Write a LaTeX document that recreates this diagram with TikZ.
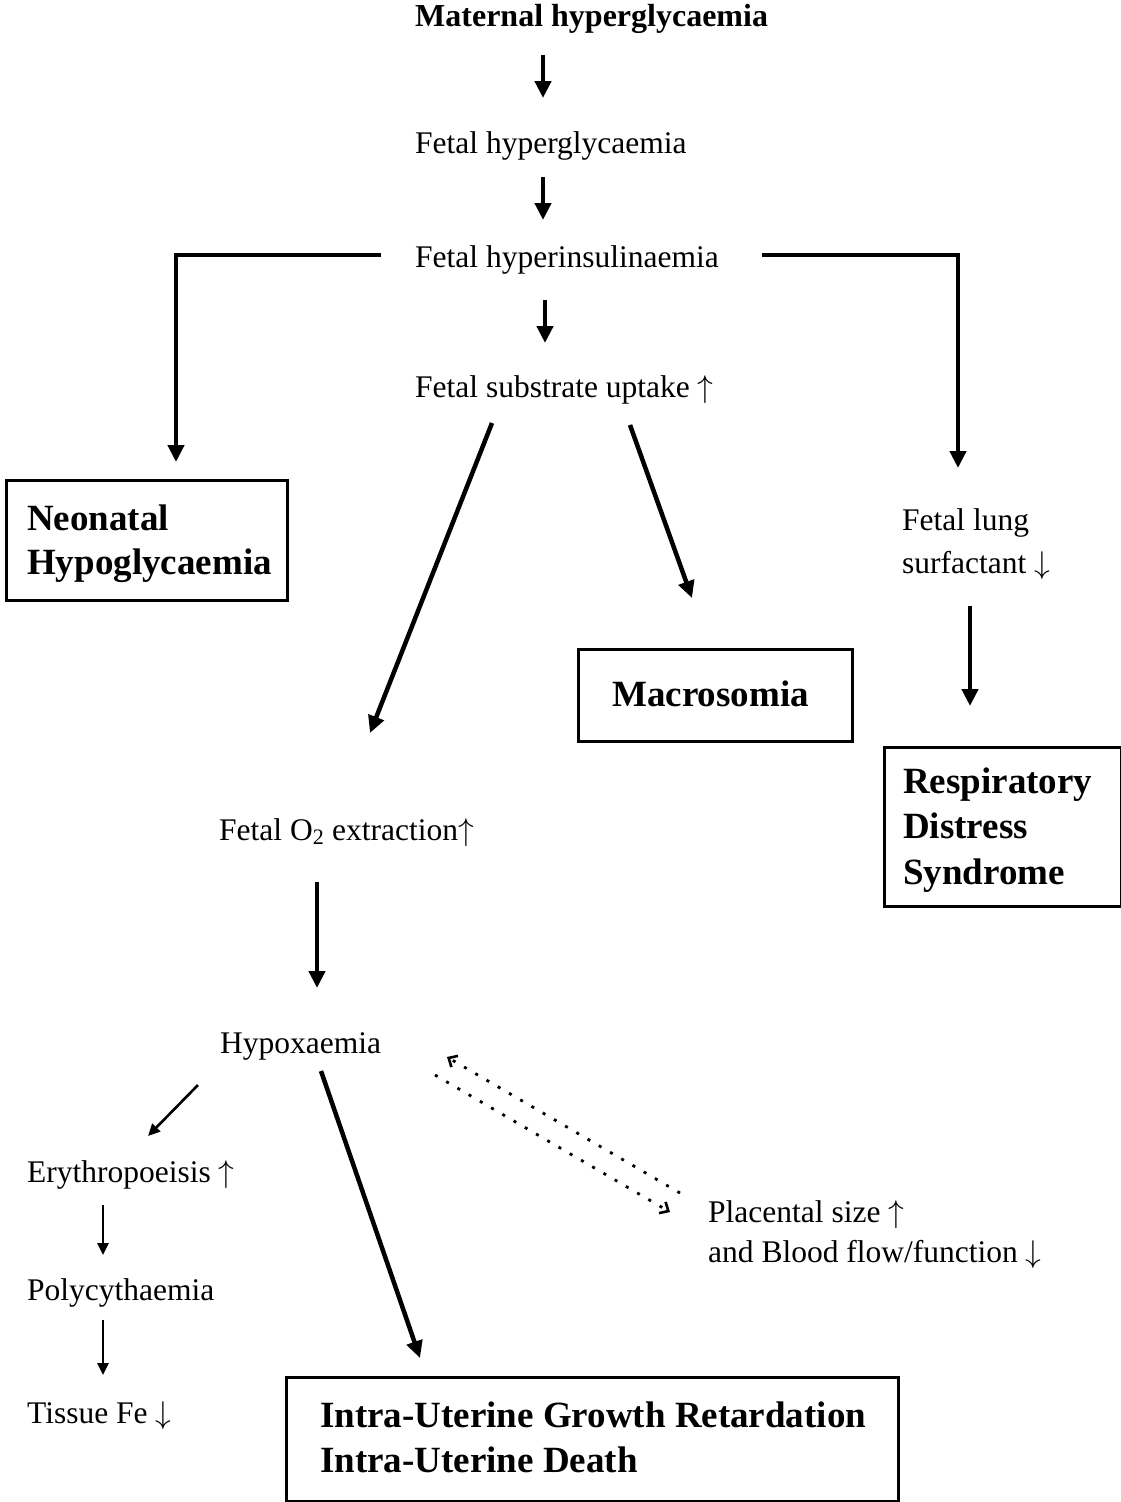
\RequirePackage{fix-cm}
\documentclass[tikz,border=0pt]{standalone}
\usepackage{fontspec}
\setmainfont{Liberation Serif}
\usetikzlibrary{arrows.meta}
\newcommand{\upar}{\ensuremath{\uparrow}}
\newcommand{\dnar}{\ensuremath{\downarrow}}
\begin{document}
\begin{tikzpicture}[x=1pt,y=-1pt,
  txt/.style={anchor=base west,inner sep=0pt,font=\fontsize{31.5}{38}\selectfont},
  toptxt/.style={anchor=base west,inner sep=0pt,font=\fontsize{32}{38}\selectfont\bfseries},
  btxt/.style={anchor=base west,inner sep=0pt,font=\fontsize{37}{45}\selectfont\bfseries},
  outbox/.style={draw,line width=2.5pt,anchor=north west,inner sep=0pt},
  big/.style={line width=4.5pt,line join=miter,-{Triangle[length=17pt,width=16pt]}},
  small/.style={line width=2.6pt,-{Triangle[length=12pt,width=11pt]}},
  dots/.style={line width=2.8pt,dash pattern=on 3pt off 10pt,-{Straight Barb[length=7pt,width=13pt,line width=2.6pt]}}
]
\useasboundingbox (0,0) rectangle (1121,1502);
\fill[white] (0,0) rectangle (1121,1502);

% text nodes
\node[toptxt] (mat) at (415,26) {Maternal hyperglycaemia};
\node[txt] (fhg) at (415,153) {Fetal hyperglycaemia};
\node[txt] (fhi) at (415,267) {Fetal hyperinsulinaemia};
\node[txt] (fsu) at (415,397) {Fetal substrate uptake \upar};
\node[txt] (flung1) at (902,530) {Fetal lung};
\node[txt] (flung2) at (902,573) {surfactant \dnar};
\node[txt] (fo2) at (219,840) {Fetal O\textsubscript{2} extraction\upar};
\node[txt] (hyp) at (220,1053) {Hypoxaemia};
\node[txt] (ery) at (27,1182) {Erythropoeisis \upar};
\node[txt] (pol) at (27,1300) {Polycythaemia};
\node[txt] (tfe) at (27,1423) {Tissue Fe \dnar};
\node[txt] (pla1) at (708,1222) {Placental size \upar};
\node[txt] (pla2) at (708,1262) {and Blood flow/function \dnar};

% outcome boxes
\node[outbox,minimum width=281pt,minimum height=120pt] (neo) at (5,479) {};
\node[btxt] (neo1) at (27,530) {Neonatal};
\node[btxt] (neo2) at (27,574) {Hypoglycaemia};

\node[outbox,minimum width=274pt,minimum height=92pt] (mac) at (577,648) {};
\node[btxt] (mac1) at (612,706) {Macrosomia};

\node[outbox,minimum width=237pt,minimum height=159pt] (rds) at (883,746) {};
\node[btxt] (rds1) at (903,793) {Respiratory};
\node[btxt] (rds2) at (903,838) {Distress};
\node[btxt] (rds3) at (903,884) {Syndrome};

\node[outbox,minimum width=612pt,minimum height=124pt] (iug) at (285,1376) {};
\node[btxt] (iug1) at (320,1427) {Intra-Uterine Growth Retardation};
\node[btxt] (iug2) at (320,1472) {Intra-Uterine Death};

% connector end points
\coordinate (a1s) at (543,55);   \coordinate (a1e) at (543,98);
\coordinate (a2s) at (543,177);  \coordinate (a2e) at (543,220);
\coordinate (a3s) at (545,300);  \coordinate (a3e) at (545,343);
\coordinate (lbs) at (381,255);  \coordinate (lbc) at (176,255); \coordinate (lbe) at (176,462);
\coordinate (rbs) at (762,255);  \coordinate (rbc) at (958,255); \coordinate (rbe) at (958,468);
\coordinate (d1s) at (492,423);  \coordinate (d1e) at (370,733);
\coordinate (d2s) at (630,425);  \coordinate (d2e) at (692,598);
\coordinate (lus) at (970,606);  \coordinate (lue) at (970,706);
\coordinate (o2s) at (317,882);  \coordinate (o2e) at (317,988);
\coordinate (ius) at (321,1071); \coordinate (iue) at (420,1358);
\coordinate (ers) at (198,1085); \coordinate (ere) at (148,1136);
\coordinate (pos) at (103,1205); \coordinate (poe) at (103,1255);
\coordinate (tfs) at (103,1320); \coordinate (tfe2) at (103,1375);
\coordinate (dus) at (680,1193); \coordinate (due) at (447,1057);
\coordinate (dls) at (435,1075); \coordinate (dle) at (670,1212);

% connectors
\draw[big] (a1s) -- (a1e);
\draw[big] (a2s) -- (a2e);
\draw[big] (a3s) -- (a3e);
\draw[big] (lbs) -- (lbc) -- (lbe);
\draw[big] (rbs) -- (rbc) -- (rbe);
\draw[big] (d1s) -- (d1e);
\draw[big] (d2s) -- (d2e);
\draw[big] (lus) -- (lue);
\draw[big] (o2s) -- (o2e);
\draw[big] (ius) -- (iue);
\draw[small] (ers) -- (ere);
\draw[small] (pos) -- (poe);
\draw[small] (tfs) -- (tfe2);
\draw[dots] (dus) -- (due);
\draw[dots] (dls) -- (dle);
\end{tikzpicture}
\end{document}
